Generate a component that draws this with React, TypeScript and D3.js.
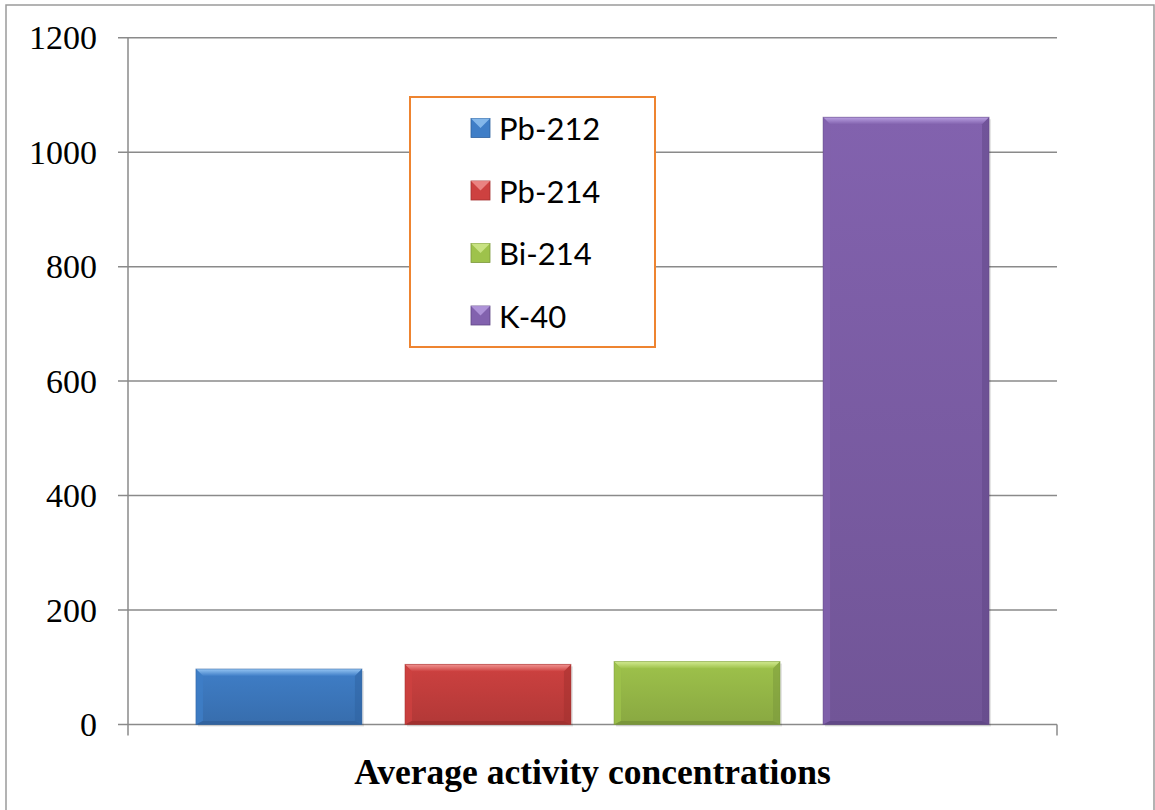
import React from "react";
import * as d3 from "d3";

// Radionuclide averages (Bq/kg)
const nuclides = ["Pb-212", "Pb-214", "Bi-214", "K-40"];
const averages = [97, 105, 110, 1061];
const yTicks = [0, 200, 400, 600, 800, 1000, 1200];
const axisTitle = "Average activity concentrations";

// Fill palette per nuclide: [base, light edge, dark edge, bottom]
const palette = [
  ["#3F7EC7", "#95C5F3", "#2E619F", "#2F5E99"],
  ["#CD4140", "#F19391", "#A22F2E", "#9A2D2C"],
  ["#9EC24B", "#D2EA90", "#7A983B", "#748F38"],
  ["#8262AE", "#B9A0E2", "#5F4686", "#5B4380"],
];

const W = 1155;
const H = 810;
const plot = { left: 128, right: 1057, top: 37.7, bottom: 724.5 };

export default function App() {
  const y = d3.scaleLinear().domain([0, 1200]).range([plot.bottom, plot.top]);
  const x = d3
    .scaleBand<string>()
    .domain(nuclides)
    .range([plot.left, plot.right])
    .paddingInner(0.206)
    .paddingOuter(0.325);

  const bw = x.bandwidth();
  const bev = 7;
  const gridColor = "#8a8a8a";

  return (
    <svg
      width={W}
      height={H}
      style={{ position: "absolute", left: 0, top: 0, background: "#fff" }}
      fontFamily="'Liberation Serif', 'Times New Roman', serif"
    >
      <defs>
        {palette.map((p, i) => (
          <linearGradient key={i} id={`g${i}`} x1="0" y1="0" x2="0" y2="1">
            <stop offset="0%" stopColor={p[0]} />
            <stop offset="100%" stopColor={d3.color(p[0])!.darker(0.4).formatHex()} />
          </linearGradient>
        ))}
        {palette.map((p, i) => (
          <linearGradient key={`t${i}`} id={`t${i}`} x1="0" y1="0" x2="0" y2="1">
            <stop offset="0%" stopColor={p[1]} />
            <stop offset="100%" stopColor={p[0]} />
          </linearGradient>
        ))}
      </defs>

      {/* outer frame */}
      <rect x={6} y={5} width={1148} height={820} fill="none" stroke="#9a9a9a" strokeWidth={1.5} />

      {/* gridlines and y ticks */}
      {yTicks.map((t) => (
        <g key={t}>
          <line
            x1={plot.left - 10}
            x2={plot.right}
            y1={y(t)}
            y2={y(t)}
            stroke={gridColor}
            strokeWidth={1.5}
          />
          <text
            x={97}
            y={y(t)}
            textAnchor="end"
            dominantBaseline="central"
            fontSize={34}
            fill="#000"
          >
            {t}
          </text>
        </g>
      ))}

      {/* axes */}
      <line x1={plot.left} x2={plot.left} y1={plot.top} y2={plot.bottom + 11} stroke={gridColor} strokeWidth={1.5} />
      <line x1={plot.right} x2={plot.right} y1={plot.bottom} y2={plot.bottom + 11} stroke={gridColor} strokeWidth={1.5} />

      {/* bars with bevelled edges */}
      {nuclides.map((n, i) => {
        const x0 = x(n)!;
        const x1 = x0 + bw;
        const y0 = y(averages[i]);
        const y1 = y(0);
        const p = palette[i];
        return (
          <g key={n}>
            <rect x={x0 + 2} y={y0 + 2} width={bw} height={y1 - y0} fill="#000" opacity={0.1} />
            <rect x={x0} y={y0} width={bw} height={y1 - y0} fill={`url(#g${i})`} />
            <polygon
              points={`${x0},${y0} ${x1},${y0} ${x1 - bev},${y0 + bev} ${x0 + bev},${y0 + bev}`}
              fill={`url(#t${i})`}
            />
            <polygon
              points={`${x0},${y0} ${x0 + bev},${y0 + bev} ${x0 + bev},${y1 - bev / 2} ${x0},${y1}`}
              fill={p[0]}
              opacity={0.8}
            />
            <polygon
              points={`${x1},${y0} ${x1 - bev},${y0 + bev} ${x1 - bev},${y1 - bev / 2} ${x1},${y1}`}
              fill={p[2]}
              opacity={0.5}
            />
            <polygon
              points={`${x0},${y1} ${x0 + bev},${y1 - bev / 2} ${x1 - bev},${y1 - bev / 2} ${x1},${y1}`}
              fill={p[3]}
              opacity={0.7}
            />
            <rect x={x0} y={y0} width={bw} height={y1 - y0} fill="none" stroke={p[2]} strokeWidth={1} opacity={0.5} />
          </g>
        );
      })}

      {/* legend */}
      <g>
        <rect x={410} y={97} width={245} height={250} fill="#fff" stroke="#EE8430" strokeWidth={2} />
        {nuclides.map((n, i) => {
          const cy = 128 + i * 62.5;
          const p = palette[i];
          const s = 19;
          const sx = 471;
          const sy = cy - s / 2;
          return (
            <g key={n}>
              <rect x={sx} y={sy} width={s} height={s} fill={p[0]} stroke={p[2]} strokeWidth={0.8} />
              <polygon
                points={`${sx},${sy} ${sx + s},${sy} ${sx + s / 2},${sy + s / 2}`}
                fill={p[1]}
                opacity={0.8}
              />
              <text
                x={499}
                y={cy}
                dominantBaseline="central"
                fontFamily="Lato, 'Liberation Sans', sans-serif"
                fontSize={31}
                fill="#000"
              >
                {n}
              </text>
            </g>
          );
        })}
      </g>

      {/* category axis title */}
      <text
        x={(plot.left + plot.right) / 2}
        y={772}
        textAnchor="middle"
        dominantBaseline="central"
        fontWeight="bold"
        fontSize={35.5}
        fill="#000"
      >
        {axisTitle}
      </text>
    </svg>
  );
}
